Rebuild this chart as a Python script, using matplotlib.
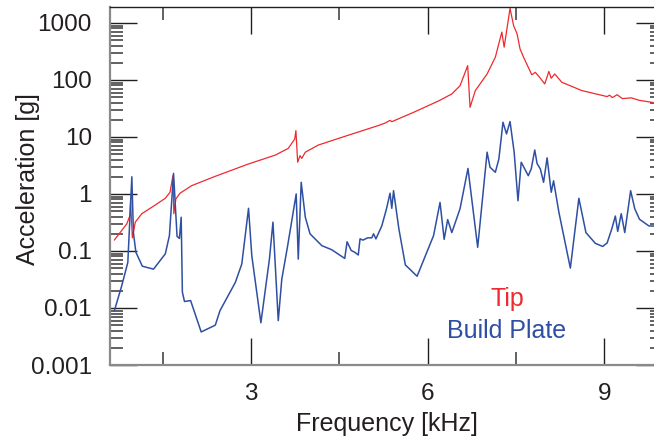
import numpy as np
import matplotlib
matplotlib.use("Agg")
import matplotlib.pyplot as plt
from matplotlib.ticker import FixedLocator, MultipleLocator, LogLocator, NullFormatter

# tip response [kHz, g]
tip_freq = [0.675, 0.886, 0.94, 0.95, 0.98, 1.03, 1.14, 1.37, 1.54, 1.62, 1.67,
            1.685, 1.72, 1.79, 1.99, 2.39, 2.90, 2.955, 3.41, 3.63, 3.74, 3.76,
            3.79, 3.83, 3.86, 3.92, 4.14, 4.60, 5.19, 5.28, 5.36, 5.39, 5.76,
            6.19, 6.41, 6.55, 6.68, 6.72, 6.81, 7.01, 7.15, 7.26, 7.30, 7.40,
            7.46, 7.52, 7.57, 7.63, 7.77, 7.83, 7.90, 7.99, 8.06, 8.10, 8.16,
            8.28, 8.62, 9.05, 9.09, 9.14, 9.22, 9.31, 9.46, 9.59, 9.84, 10.0]
tip_acc = [0.156, 0.30, 0.42, 0.75, 0.17, 0.32, 0.45, 0.64, 0.84, 1.07, 2.1,
           0.45, 0.82, 1.03, 1.4, 2.04, 3.2, 3.36, 4.8, 6.3, 9.2, 12.9,
           3.6, 4.7, 4.2, 5.4, 7.2, 10.3, 16.2, 17.6, 19.5, 18.5, 27,
           43, 56.7, 79, 178, 33, 65, 127, 250, 690, 375, 1800,
           900, 640, 350, 250, 123, 136, 112, 85, 141, 107, 127,
           91, 65, 51, 54, 49, 55, 47, 48.5, 44, 40, 38]

# build plate response [kHz, g]
plate_freq = [0.675, 0.80, 0.903, 0.971, 0.998, 1.04, 1.15, 1.34, 1.54, 1.61,
              1.68, 1.72, 1.74, 1.78, 1.81, 1.83, 1.866, 1.97, 2.15, 2.39,
              2.47, 2.73, 2.84, 2.955, 3.01, 3.165, 3.31, 3.37, 3.46, 3.52,
              3.62, 3.765, 3.80, 3.85, 3.92, 4.00, 4.20, 4.37, 4.59, 4.63,
              4.70, 4.76, 4.82, 4.85, 4.90, 4.98, 5.05, 5.08, 5.12, 5.22,
              5.30, 5.36, 5.39, 5.42, 5.51, 5.62, 5.82, 6.10, 6.21, 6.28,
              6.34, 6.41, 6.55, 6.685, 6.85, 7.01, 7.06, 7.15, 7.21, 7.28,
              7.34, 7.40, 7.47, 7.535, 7.59, 7.71, 7.76, 7.82, 7.86, 7.915,
              7.97, 8.03, 8.10, 8.14, 8.23, 8.425, 8.57, 8.69, 8.85, 8.975,
              9.05, 9.13, 9.19, 9.23, 9.29, 9.35, 9.45, 9.52, 9.60, 9.76, 10.0]
plate_acc = [0.009, 0.0247, 0.063, 2.0, 0.21, 0.095, 0.054, 0.048, 0.089, 0.186,
             2.3, 0.42, 0.18, 0.166, 0.39, 0.019, 0.013, 0.0135, 0.0038, 0.005,
             0.009, 0.028, 0.059, 0.56, 0.083, 0.0055, 0.072, 0.32, 0.006, 0.032,
             0.124, 1.0, 0.072, 1.6, 0.39, 0.2, 0.124, 0.105, 0.074, 0.145,
             0.102, 0.095, 0.085, 0.163, 0.155, 0.17, 0.17, 0.2, 0.163, 0.275,
             0.55, 1.03, 0.56, 1.14, 0.245, 0.057, 0.036, 0.186, 0.71, 0.16,
             0.355, 0.21, 0.55, 2.8, 0.116, 5.4, 2.94, 2.4, 4.1, 18.1,
             11.3, 18.6, 5.4, 0.76, 3.6, 2.09, 2.75, 5.9, 3.4, 2.75,
             1.6, 4.3, 1.07, 1.7, 0.48, 0.05, 0.84, 0.21, 0.136, 0.12,
             0.138, 0.245, 0.41, 0.22, 0.45, 0.21, 1.14, 0.55, 0.36, 0.275, 0.27]

y_ticks = [0.001, 0.01, 0.1, 1, 10, 100, 1000]
y_ticklabels = ["0.001", "0.01", "0.1", "1", "10", "100", "1000"]
x_ticks = [3, 6, 9]

RED = "#ee2a2e"
BLUE = "#2f4fa2"
INK = "#231f20"

plt.rcParams["font.family"] = ["Liberation Sans", "DejaVu Sans"]

fig = plt.figure(figsize=(6.54, 4.40), dpi=100)
ax = fig.add_axes([110 / 654, 1 - 365 / 440, 553 / 654, 358 / 440])

ax.plot(tip_freq, tip_acc, color=RED, lw=0.9)
ax.plot(plate_freq, plate_acc, color=BLUE, lw=1.1)

ax.set_yscale("log")
ax.set_xlim(0.6, 10.0)
ax.set_ylim(1e-3, 1.9e3)

ax.xaxis.set_major_locator(FixedLocator(x_ticks))
ax.xaxis.set_minor_locator(MultipleLocator(1.5))
ax.set_yticks(y_ticks)
ax.set_yticklabels(y_ticklabels)
ax.yaxis.set_minor_locator(LogLocator(base=10, subs=np.arange(2, 10)))
ax.yaxis.set_minor_formatter(NullFormatter())

ax.tick_params(which="both", direction="in", top=True, right=True,
               labelsize=17.5, labelcolor=INK)
ax.tick_params(which="major", length=19.5, width=1.0, color=INK, pad=13)
ax.tick_params(which="minor", length=9.5, width=1.3, color="#555555")

for side in ("left", "bottom"):
    ax.spines[side].set_color("#8a8a8a")
    ax.spines[side].set_linewidth(1.6)
ax.spines["top"].set_color(INK)
ax.spines["top"].set_linewidth(1.0)

ax.set_xlabel("Frequency [kHz]", fontsize=18, color=INK, labelpad=5)
ax.set_ylabel("Acceleration [g]", fontsize=18, color=INK)
ax.yaxis.set_label_coords(-0.127, 0.52)

fig.text(507 / 654, 1 - 306 / 440, "Tip", color=RED, fontsize=18,
         ha="center", va="baseline")
fig.text(507 / 654, 1 - 338 / 440, "Build Plate", color=BLUE, fontsize=18,
         ha="center", va="baseline")

fig.savefig("out.png", dpi=100)
